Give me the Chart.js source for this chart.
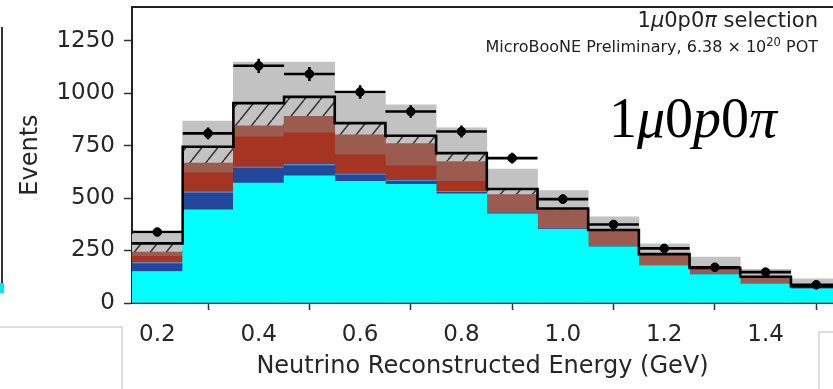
<!DOCTYPE html>
<html><head><meta charset="utf-8">
<script src="https://cdn.jsdelivr.net/npm/chart.js@4.4.0/dist/chart.umd.min.js"></script>
<style>html,body{margin:0;padding:0;background:#fff;}#wrap{width:833px;height:389px;position:relative;}</style>
</head><body><div id="wrap"><canvas id="c" width="833" height="389"></canvas></div>
<script>
// ---- data ----
const binEdges   = [0.15,0.25,0.35,0.45,0.55,0.65,0.75,0.85,0.95,1.05,1.15,1.25,1.35,1.45,1.55];
const binCenters = [0.2,0.3,0.4,0.5,0.6,0.7,0.8,0.9,1.0,1.1,1.2,1.3,1.4,1.5];
const cyanNu      = [150,444,571,606,580,565,520,425,351,267,178,135,91,68];
const navyNu      = [38,80,72,49,29,14,7,3,2,2,1,1,1,1];
const lightBlueNu = [5,5,5,5,5,5,4,0,0,0,0,0,0,0];
const redNu       = [29,91,143,152,92,70,48,0,0,0,0,0,0,0];
const roseNu      = [21,47,53,77,95,105,95,88,92,74,49,29,32,9];
const hatchedBkg  = [41,77,108,93,56,38,40,27,5,5,5,2,1,1];
const mcUncUp     = [44,123,196,166,138,147,120,95,86,63,49,52,35,36];
const dataEvents  = [338,808,1130,1091,1005,912,817,690,495,374,260,170,147,87];
const dataErr     = [18,28,34,33,32,30,29,26,22,19,16,13,12,9];
const xTicks = [0.2,0.4,0.6,0.8,1.0,1.2,1.4];
const yTicks = [0,250,500,750,1000,1250];

const canvas = document.getElementById('c');
const ctx0 = canvas.getContext('2d');
function makeHatch(){
  const w=16,h=20;const c=document.createElement('canvas');c.width=w;c.height=h;
  const g=c.getContext('2d');g.fillStyle='#c2c2c2';g.fillRect(0,0,w,h);
  g.strokeStyle='#333';g.lineWidth=1.5;g.beginPath();
  for(let k=-1;k<=1;k++){g.moveTo(k*w,h);g.lineTo((k+1)*w,0);}
  g.stroke();return ctx0.createPattern(c,'repeat');
}
const hatch = makeHatch();

const pts = arr => binCenters.map((x,i)=>({x:x,y:arr[i]}));
const comps = [cyanNu,navyNu,lightBlueNu,redNu,roseNu,hatchedBkg];
const mcTotal = binCenters.map((_,i)=>comps.reduce((s,a)=>s+a[i],0));
const stepPts = binEdges.map((x,i)=>({x:x,y:mcTotal[Math.min(i,mcTotal.length-1)]}));

function bar(label,arr,color){
  return {type:'bar',label:label,data:pts(arr),backgroundColor:color,borderWidth:0,
    stack:'mc',order:2,categoryPercentage:1,barPercentage:1};
}
function noPad(s){s.paddingTop=0;s.paddingBottom=0;s.paddingLeft=0;s.paddingRight=0;}

const overlay = {
  id:'overlay',
  afterDatasetsDraw(chart){
    const ctx=chart.ctx, xs=chart.scales.x, ys=chart.scales.y, a=chart.chartArea;
    ctx.save();ctx.beginPath();ctx.rect(a.left,a.top-5,a.right-a.left,a.bottom-a.top+5);ctx.clip();
    ctx.strokeStyle='#000';ctx.lineWidth=2.6;ctx.beginPath();
    for(let i=0;i<dataEvents.length;i++){
      const y=ys.getPixelForValue(dataEvents[i]);
      ctx.moveTo(xs.getPixelForValue(binEdges[i]),y);ctx.lineTo(xs.getPixelForValue(binEdges[i+1]),y);
      const x=xs.getPixelForValue(binCenters[i]);
      ctx.moveTo(x,ys.getPixelForValue(dataEvents[i]-dataErr[i]));
      ctx.lineTo(x,ys.getPixelForValue(dataEvents[i]+dataErr[i]));
    }
    ctx.stroke();ctx.restore();
  },
  afterDraw(chart){
    const ctx=chart.ctx,a=chart.chartArea;
    ctx.save();
    ctx.strokeStyle='#222';ctx.lineWidth=2;ctx.beginPath();
    ctx.moveTo(a.left,a.top);ctx.lineTo(a.right,a.top);ctx.stroke();
    function seg(list,x,y,align){
      let tot=0;list.forEach(s=>{ctx.font=s[1];tot+=ctx.measureText(s[0]).width;});
      let cx = align==='right'? x-tot : x;
      list.forEach(s=>{ctx.font=s[1];ctx.fillText(s[0],cx,y+(s[2]||0));cx+=ctx.measureText(s[0]).width;});
    }
    ctx.fillStyle='#222';ctx.textBaseline='alphabetic';ctx.textAlign='left';
    const f1='21px "DejaVu Sans"', f1i='oblique 21px "DejaVu Sans"';
    seg([['1',f1],['\u03bc',f1i],['0p0',f1],['\u03c0',f1i],[' selection',f1]],818,27,'right');
    const f2='16px "DejaVu Sans"', f2s='11.5px "DejaVu Sans"';
    seg([['MicroBooNE Preliminary, 6.38 \u00d7 10',f2],['20',f2s,-6],[' POT',f2]],818,52,'right');
    ctx.fillStyle='#000';
    const s1='56px "Liberation Serif"', s1i='italic 56px "Liberation Serif"';
    seg([['1',s1],['\u03bc',s1i],['0',s1],['p',s1i],['0',s1],['\u03c0',s1i]],609,137,'left');
    ctx.strokeStyle='#333';ctx.lineWidth=2;ctx.beginPath();ctx.moveTo(2,27);ctx.lineTo(2,292);ctx.stroke();
    ctx.fillStyle='#00e5e5';ctx.fillRect(0,283,4,10);
    ctx.strokeStyle='#d4d4d4';ctx.lineWidth=1.5;ctx.beginPath();
    ctx.moveTo(0,327);ctx.lineTo(122,327);ctx.lineTo(122,389);
    ctx.moveTo(833,332);ctx.lineTo(819,332);ctx.lineTo(819,389);ctx.stroke();
    ctx.restore();
  }
};

new Chart(canvas,{
  type:'bar',
  data:{datasets:[
    {type:'line',label:'MC total',data:stepPts,stepped:'before',borderColor:'#000',borderWidth:2.6,
     pointRadius:0,fill:false,stack:'mcline',order:0},
    {type:'line',label:'Data',data:pts(dataEvents),showLine:false,pointRadius:4.3,
     pointBackgroundColor:'#000',pointBorderColor:'#000',stack:'data',order:0},
    bar('cyan',cyanNu,'#00ffff'),
    bar('navy',navyNu,'#23489b'),
    bar('lightblue',lightBlueNu,'#4f8fd6'),
    bar('red',redNu,'#a53422'),
    bar('rose',roseNu,'#9b5c4f'),
    bar('hatched',hatchedBkg,hatch),
    bar('unc',mcUncUp,'#c2c2c2')
  ]},
  options:{
    responsive:false,animation:false,events:[],devicePixelRatio:1,
    layout:{autoPadding:false,padding:{top:7,left:0,right:0,bottom:0}},
    plugins:{legend:{display:false},tooltip:{enabled:false},title:{display:false}},
    scales:{
      x:{type:'linear',min:0.15,max:1.533,offset:false,
        grid:{drawOnChartArea:false,drawTicks:true,tickLength:7,color:'#333',tickWidth:1.5},
        border:{display:true,color:'#222',width:2},
        ticks:{font:{family:'DejaVu Sans',size:23},color:'#262626',padding:11,maxRotation:0,autoSkip:false,
          callback:v=>Number(v).toFixed(1)},
        afterBuildTicks:s=>{s.ticks=xTicks.map(v=>({value:v}));},
        afterFit:s=>{s.height=86;noPad(s);},
        title:{display:true,text:'Neutrino Reconstructed Energy (GeV)',color:'#262626',
          font:{family:'DejaVu Sans',size:24},padding:{top:0,bottom:8}}
      },
      y:{min:0,max:1410,stacked:true,
        grid:{drawOnChartArea:false,drawTicks:true,tickLength:8,color:'#333',tickWidth:1.5},
        border:{display:true,color:'#222',width:2},
        ticks:{font:{family:'DejaVu Sans',size:23},color:'#262626',padding:9,callback:v=>String(v)},
        afterBuildTicks:s=>{s.ticks=yTicks.map(v=>({value:v}));},
        afterFit:s=>{s.width=132;noPad(s);},
        title:{display:true,text:'Events',color:'#262626',font:{family:'DejaVu Sans',size:24},
          padding:{top:16,bottom:0}}
      }
    }
  },
  plugins:[overlay]
});
</script></body></html>
